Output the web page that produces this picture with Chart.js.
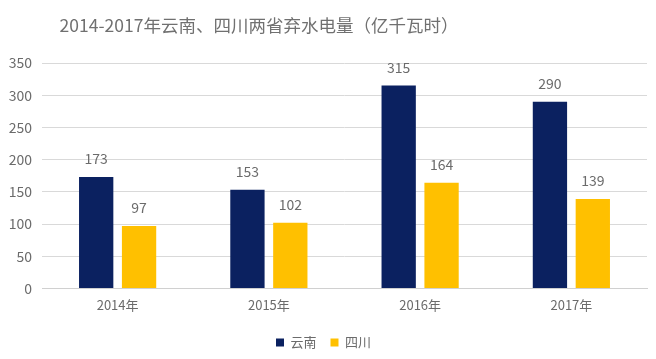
<!DOCTYPE html>
<html><head><meta charset="utf-8">
<script src="https://cdn.jsdelivr.net/npm/chart.js@4/dist/chart.umd.min.js"></script>
<style>
html,body{margin:0;padding:0;background:#fff;}
#wrap{position:relative;width:656px;height:359px;}
#title{position:absolute;left:0;top:12px;width:518px;text-align:center;font-family:"Noto Sans CJK SC","Noto Sans",sans-serif;font-size:17.5px;color:#707070;white-space:nowrap;}
canvas{position:absolute;left:0;top:0;}
</style></head>
<body>
<div id="wrap">
<canvas id="c" width="656" height="359"></canvas>
<div id="title">2014-2017年云南、四川两省弃水电量（亿千瓦时）</div>
</div>
<script>
const categories = ["2014年","2015年","2016年","2017年"];
const yunnan = [173,153,315,290];
const sichuan = [97,102,164,139];
const seriesNames = ["云南","四川"];
const yTicks = [0,50,100,150,200,250,300,350];

const FONT = '"Noto Sans CJK SC","Noto Sans",sans-serif';
const valueLabels = {
  id:'valueLabels',
  afterDatasetsDraw(chart){
    const ctx = chart.ctx;
    ctx.save();
    ctx.font = '14px ' + FONT;
    ctx.fillStyle = '#6b6b6b';
    ctx.textAlign = 'center';
    ctx.textBaseline = 'middle';
    chart.data.datasets.forEach((ds,i)=>{
      chart.getDatasetMeta(i).data.forEach((bar,j)=>{
        ctx.fillText(String(ds.data[j]), bar.x, bar.y - 18);
      });
    });
    ctx.restore();
  }
};

new Chart(document.getElementById('c'), {
  type:'bar',
  data:{
    labels:categories,
    datasets:[
      {label:seriesNames[0], data:yunnan, backgroundColor:'#0b2160'},
      {label:seriesNames[1], data:sichuan, backgroundColor:'#ffc000'}
    ]
  },
  options:{
    responsive:false,
    animation:false,
    layout:{padding:{top:63,right:9,left:0,bottom:0}},
    datasets:{bar:{categoryPercentage:0.567,barPercentage:0.8}},
    plugins:{
      legend:{position:'bottom',labels:{boxWidth:8,boxHeight:8,padding:14,color:'#6b6b6b',font:{family:FONT,size:13}}},
      tooltip:{enabled:false},
      title:{display:false}
    },
    scales:{
      x:{
        grid:{display:false,drawTicks:false},
        border:{color:'#d0d0d0'},
        ticks:{color:'#6b6b6b',padding:9,font:{family:FONT,size:13}}
      },
      y:{
        min:0,max:350,
        afterFit(s){s.width=42;},
        afterBuildTicks(s){s.ticks = yTicks.map(v=>({value:v}));},
        grid:{color:'#d9d9d9',drawTicks:false},
        border:{display:false},
        ticks:{color:'#6b6b6b',padding:10,font:{family:FONT,size:14}}
      }
    }
  },
  plugins:[valueLabels]
});
</script>
</body></html>
